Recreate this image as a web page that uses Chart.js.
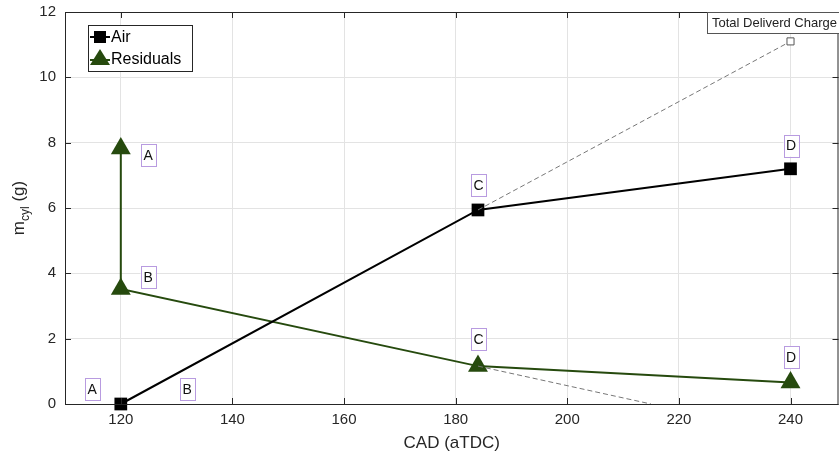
<!DOCTYPE html>
<html>
<head>
<meta charset="utf-8">
<script src="https://cdn.jsdelivr.net/npm/chart.js@4/dist/chart.umd.min.js"></script>
<style>
  html, body { margin:0; padding:0; background:#fff; overflow:hidden; width:839px; height:458px; }
  #wrap { width:850px; height:458px; position:relative; }
</style>
</head>
<body>
<div id="wrap"><canvas id="c"></canvas></div>
<script>
/* values */
const airCad = [120, 184, 240];
const airMass = [0, 5.94, 7.2];
const residCad = [120, 120, 184, 240];
const residMass = [7.82, 3.52, 1.16, 0.66];
const totalCad = 240;
const totalMass = 11.1;
const residZeroCad = 215;
const xTicks = [120, 140, 160, 180, 200, 220, 240];
const yTicks = [0, 2, 4, 6, 8, 10, 12];
const labelText = ['A', 'B', 'A', 'B', 'C', 'C', 'D', 'D'];
const labelCad  = [114.8, 131.8, 124.8, 124.8, 184, 184, 240, 240];
const labelMass = [0.46, 0.46, 7.62, 3.89, 6.70, 1.99, 7.91, 1.44];

const FONT = '"Liberation Sans", Arial, sans-serif';
const AIR = '#000000';
const RES = '#264a0e';
const LABEL_BORDER = '#b89be0';

const pts = (xs, ys) => xs.map((x, i) => ({ x, y: ys[i] }));

/* label boxes, legend, y title, inward ticks */
const decor = {
  id: 'decor',
  afterDatasetsDraw(chart) {
    const { ctx, chartArea: a, scales: { x, y } } = chart;
    ctx.save();
    // inward ticks on all four sides
    ctx.strokeStyle = '#262626'; ctx.lineWidth = 1;
    ctx.beginPath();
    for (const t of xTicks) {
      const px = Math.round(x.getPixelForValue(t)) + 0.5;
      ctx.moveTo(px, a.bottom); ctx.lineTo(px, a.bottom - 6);
      ctx.moveTo(px, a.top); ctx.lineTo(px, a.top + 6);
    }
    for (const t of yTicks) {
      const py = Math.round(y.getPixelForValue(t)) + 0.5;
      ctx.moveTo(a.left, py); ctx.lineTo(a.left + 6, py);
      ctx.moveTo(a.right, py); ctx.lineTo(a.right - 6, py);
    }
    ctx.stroke();
    ctx.strokeRect(a.left + 0.5, a.top + 0.5, a.right - a.left - 1, a.bottom - a.top);

    // point labels
    ctx.font = '14px ' + FONT;
    ctx.textAlign = 'center'; ctx.textBaseline = 'middle';
    labelText.forEach((t, i) => {
      const px = x.getPixelForValue(labelCad[i]);
      const py = y.getPixelForValue(labelMass[i]);
      ctx.fillStyle = '#fff';
      ctx.fillRect(px - 7, py - 11, 15, 22);
      ctx.strokeStyle = LABEL_BORDER; ctx.lineWidth = 1;
      ctx.strokeRect(Math.round(px - 7) + 0.5, Math.round(py - 11) + 0.5, 15, 22);
      ctx.fillStyle = '#111';
      ctx.fillText(t, px + 0.5, py + 1);
    });

    // total delivered charge box
    ctx.fillStyle = '#fff';
    ctx.fillRect(707.5, a.top + 0.5, 140, 21);
    ctx.strokeStyle = '#555';
    ctx.strokeRect(707.5, a.top + 0.5, 140, 21);
    ctx.fillStyle = '#222';
    ctx.font = '13px ' + FONT;
    ctx.textAlign = 'left';
    ctx.fillText('Total Deliverd Charge', 712, a.top + 11.5);

    // legend
    const lx = 88, ly = 25, lw = 104, lh = 46;
    ctx.fillStyle = '#fff';
    ctx.fillRect(lx, ly, lw, lh);
    ctx.strokeStyle = '#262626'; ctx.lineWidth = 1;
    ctx.strokeRect(lx + 0.5, ly + 0.5, lw, lh);
    ctx.lineWidth = 2;
    ctx.strokeStyle = AIR; ctx.beginPath(); ctx.moveTo(90, 37); ctx.lineTo(110, 37); ctx.stroke();
    ctx.fillStyle = AIR; ctx.fillRect(94, 31, 12, 12);
    ctx.strokeStyle = RES; ctx.beginPath(); ctx.moveTo(90, 60); ctx.lineTo(110, 60); ctx.stroke();
    ctx.fillStyle = RES; ctx.beginPath();
    ctx.moveTo(100, 49); ctx.lineTo(110, 65); ctx.lineTo(90, 65); ctx.closePath(); ctx.fill();
    ctx.fillStyle = '#000';
    ctx.font = '16px ' + FONT;
    ctx.textAlign = 'left';
    ctx.fillText('Air', 111, 38);
    ctx.fillText('Residuals', 111, 60);

    // y title with subscript
    ctx.translate(24, (a.top + a.bottom) / 2);
    ctx.rotate(-Math.PI / 2);
    ctx.fillStyle = '#262626';
    ctx.textAlign = 'left'; ctx.textBaseline = 'alphabetic';
    ctx.font = '17px ' + FONT;
    const mW = ctx.measureText('m').width;
    ctx.font = '12px ' + FONT;
    const subW = ctx.measureText('cyl').width;
    ctx.font = '17px ' + FONT;
    const restW = ctx.measureText(' (g)').width;
    let sx = -(mW + subW + restW) / 2;
    ctx.fillText('m', sx, 0);
    ctx.font = '12px ' + FONT;
    ctx.fillText('cyl', sx + mW, 5);
    ctx.font = '17px ' + FONT;
    ctx.fillText(' (g)', sx + mW + subW, 0);
    ctx.restore();
  }
};

new Chart(document.getElementById('c'), {
  type: 'line',
  data: {
    datasets: [
      {
        label: 'total-air',
        data: [{ x: airCad[1], y: airMass[1] }, { x: totalCad, y: totalMass }],
        borderColor: '#777', borderWidth: 1, borderDash: [5, 3],
        pointRadius: [0, 5], pointStyle: 'rect',
        pointBackgroundColor: '#fff', pointBorderColor: '#555', pointBorderWidth: 1
      },
      {
        label: 'resid-extrap',
        data: [{ x: residCad[2], y: residMass[2] }, { x: residZeroCad, y: 0 }],
        borderColor: '#777', borderWidth: 1, borderDash: [5, 3], pointRadius: 0
      },
      {
        label: 'Air',
        data: pts(airCad, airMass),
        borderColor: AIR, backgroundColor: AIR, borderWidth: 2,
        pointStyle: 'rect', pointRadius: 9, pointBorderWidth: 0
      },
      {
        label: 'Residuals',
        data: pts(residCad, residMass),
        borderColor: RES, backgroundColor: RES, borderWidth: 2,
        pointStyle: 'triangle', pointRadius: 11.5, pointBorderWidth: 0
      }
    ]
  },
  options: {
    responsive: true,
    maintainAspectRatio: false,
    animation: false,
    clip: false,
    layout: { padding: { top: 12, right: 1, left: 0, bottom: 0 } },
    plugins: { legend: { display: false }, tooltip: { enabled: false } },
    scales: {
      x: {
        type: 'linear', min: 110, max: 248.6,
        afterBuildTicks: s => { s.ticks = xTicks.map(v => ({ value: v })); },
        afterFit: s => { s.height = 54; s.paddingLeft = 0; s.paddingRight = 0; },
        grid: { color: '#e3e3e3', drawTicks: false },
        border: { display: false },
        ticks: { color: '#262626', font: { family: FONT, size: 15 }, padding: 7, maxRotation: 0 },
        title: { display: true, text: 'CAD (aTDC)', color: '#262626', font: { family: FONT, size: 17 }, padding: { top: 0 } }
      },
      y: {
        type: 'linear', min: 0, max: 12,
        afterBuildTicks: s => { s.ticks = yTicks.map(v => ({ value: v })); },
        afterFit: s => { s.width = 65; s.paddingTop = 0; s.paddingBottom = 0; },
        grid: { color: '#e3e3e3', drawTicks: false },
        border: { display: false },
        ticks: { color: '#262626', font: { family: FONT, size: 15 }, padding: 9 }
      }
    }
  },
  plugins: [decor]
});
</script>
</body>
</html>
